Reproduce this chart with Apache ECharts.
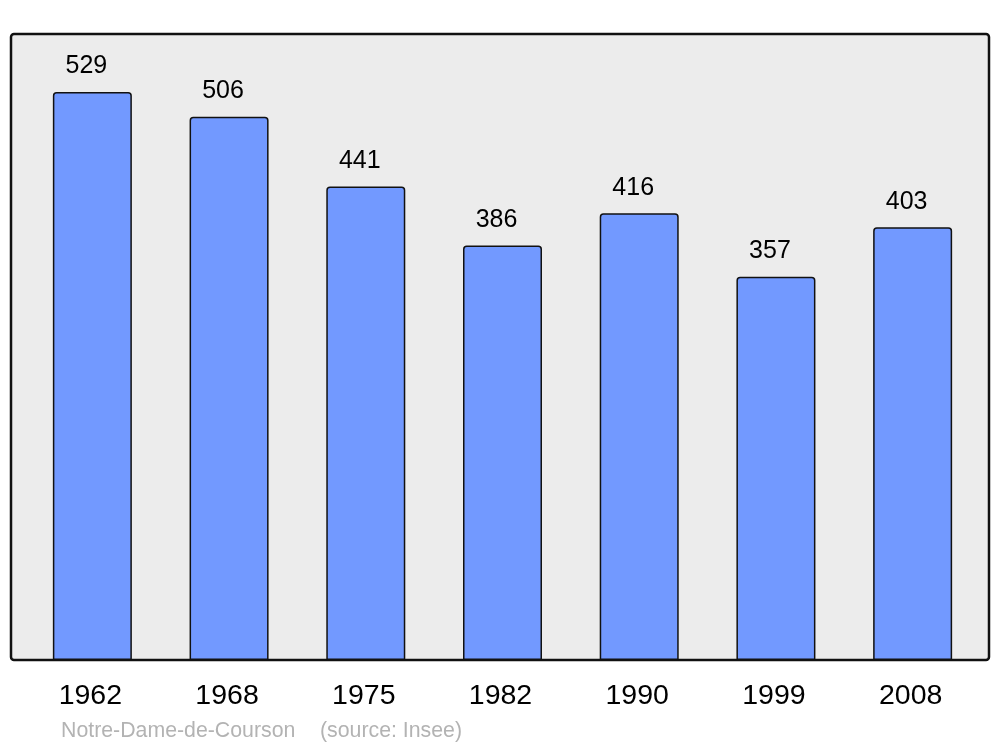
<!DOCTYPE html>
<html>
<head>
<meta charset="utf-8">
<script src="https://cdn.jsdelivr.net/npm/echarts@6/dist/echarts.min.js"></script>
<style>html,body{margin:0;padding:0;background:#fff}#c{width:1000px;height:747px}</style>
</head>
<body>
<div id="c"></div>
<script>
const years = ['1962','1968','1975','1982','1990','1999','2008'];
const population = [529, 506, 441, 386, 416, 357, 403];
const footerName = 'Notre-Dame-de-Courson';
const footerSource = '(source: Insee)';

const chart = echarts.init(document.getElementById('c'), null, {renderer: 'canvas'});
chart.setOption({
  animation: false,
  backgroundColor: '#ffffff',
  graphic: [
    {type: 'rect', z: -10, shape: {x: 11, y: 34, width: 978, height: 626, r: 3},
     style: {fill: '#ececec', stroke: '#111111', lineWidth: 2.5}},
    {type: 'text', x: 61, y: 731, style: {text: footerName, fill: '#b3b3b3', font: '21.3px "Liberation Sans", Arial, sans-serif', textVerticalAlign: 'middle'}},
    {type: 'text', x: 320, y: 731, style: {text: footerSource, fill: '#b3b3b3', font: '21.3px "Liberation Sans", Arial, sans-serif', textVerticalAlign: 'middle'}}
  ],
  grid: {left: 24, right: 19, top: 34, bottom: 87, containLabel: false},
  xAxis: {
    type: 'category', data: years,
    axisLine: {show: false}, axisTick: {show: false},
    axisLabel: {fontSize: 28.5, color: '#000', fontFamily: '"Liberation Sans", Arial, sans-serif', margin: 22, padding: [0, 4, 0, 0]}
  },
  yAxis: {type: 'value', min: 0, max: 583, show: false, splitLine: {show: false}},
  series: [{
    type: 'bar', data: population, barWidth: 79,
    itemStyle: {color: '#7299ff', borderColor: '#111111', borderWidth: 1.5, borderRadius: [3, 3, 0, 0]},
    label: {show: true, position: 'top', distance: 13, offset: [-6, 0], fontSize: 25, color: '#000', fontFamily: '"Liberation Sans", Arial, sans-serif'}
  }]
});
</script>
</body>
</html>
